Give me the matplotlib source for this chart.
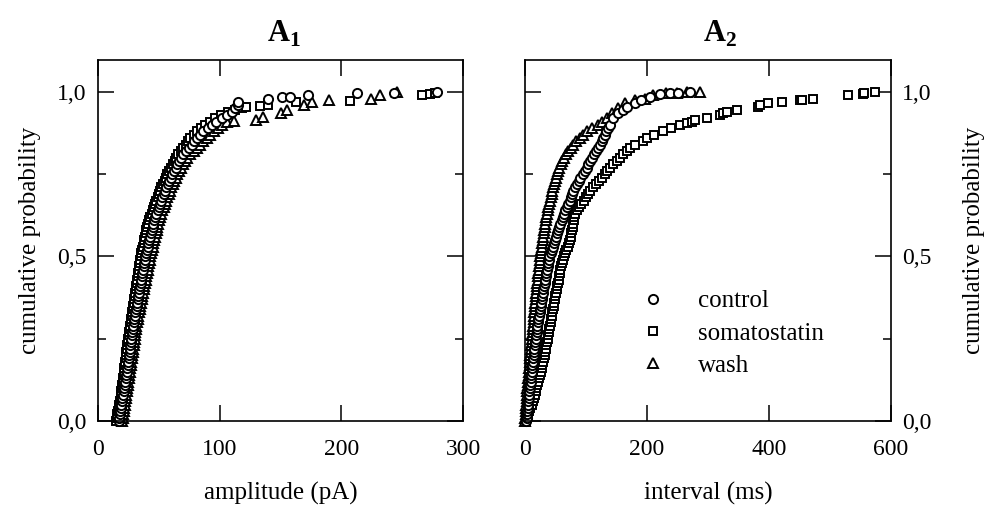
import matplotlib
matplotlib.use("Agg")
import matplotlib.pyplot as plt

plt.rcParams["font.family"] = ["Liberation Serif", "DejaVu Serif"]
plt.rcParams["mathtext.fontset"] = "custom"
plt.rcParams["mathtext.rm"] = "Liberation Serif"
plt.rcParams["mathtext.bf"] = "Liberation Serif:bold"

# cumulative probability levels (%) at which the dense part of every curve was read
band_p = [0, 1, 2, 3, 4, 5, 6, 7, 8, 9, 10, 11, 12, 13, 14, 15, 16, 17, 18, 19,
          20, 21, 22, 23, 24, 25, 26, 27, 28, 29, 30, 31, 32, 33, 34, 35, 36, 37, 38, 39,
          40, 41, 42, 43, 44, 45, 46, 47, 48, 49, 50, 51, 52, 53, 54, 55, 56, 57, 58, 59,
          60, 61, 62, 63, 64, 65, 66, 67, 68, 69, 70, 71, 72, 73, 74, 75, 76, 77, 78, 79,
          80, 81, 82, 83, 84, 85, 86, 87, 88, 89, 90]

# A1: amplitude (pA)
amp_control = [17, 17.4, 17.8, 18.2, 18.6, 19, 19.6, 20.1, 20.6, 21,
               21.5, 21.9, 22.3, 22.7, 23.1, 23.5, 23.9, 24.3, 24.7, 25.1,
               25.5, 25.9, 26.3, 26.7, 27.1, 27.5, 27.9, 28.3, 28.7, 29.1,
               29.5, 29.9, 30.4, 30.8, 31.3, 31.7, 32.2, 32.6, 33.1, 33.5,
               34, 34.5, 35, 35.5, 36, 36.5, 37, 37.5, 38, 38.5,
               39, 39.6, 40.2, 40.9, 41.5, 42.2, 42.8, 43.5, 44.2, 44.9,
               45.5, 46.3, 47.2, 48, 49, 50, 51, 52, 53, 54,
               55, 56.2, 57.4, 58.6, 59.8, 61, 62.4, 63.8, 65.2, 66.6,
               68, 70.2, 72.5, 74.7, 77, 79.2, 81.5, 83.7, 86, 90, 94]
amp_control_tail_x = [97, 102, 106, 110, 113, 115, 115, 140, 151, 158, 173, 213, 243, 279]
amp_control_tail_p = [91, 92, 93, 94, 95, 96, 97, 97.8, 98.4, 98.4, 99.2, 99.6, 99.8, 100]

amp_soma = [15, 15.5, 16, 16.5, 17, 17.5, 18, 18.5, 19, 19.2,
            19.5, 19.9, 20.2, 20.6, 21, 21.3, 21.7, 22, 22.3, 22.7,
            23, 23.4, 23.8, 24.2, 24.6, 25, 25.4, 25.8, 26.2, 26.6,
            27, 27.4, 27.8, 28.2, 28.6, 29, 29.4, 29.8, 30.2, 30.6,
            31, 31.4, 31.8, 32.2, 32.6, 33, 33.4, 33.8, 34.2, 34.6,
            35, 35.6, 36.2, 36.8, 37.4, 38, 38.6, 39.2, 39.8, 40.4,
            41, 42, 43, 44, 45, 46, 47, 48, 49, 50,
            51, 52, 53.5, 55, 56, 57, 58.5, 60, 61.5, 63,
            64, 66, 68, 70, 72, 74, 76, 78.5, 81, 84.5, 88]
amp_soma_tail_x = [92, 96, 101, 107, 113, 118, 122, 133, 140, 163, 207, 266, 273, 277]
amp_soma_tail_p = [91, 92, 93, 94, 94.6, 95, 95.3, 95.6, 96, 97, 97.3, 99, 99.3, 99.6]

amp_wash = [20, 20.4, 20.8, 21.2, 21.6, 22, 22.4, 22.8, 23.2, 23.6,
            24, 24.4, 24.8, 25.2, 25.6, 26, 26.4, 26.8, 27.2, 27.6,
            28, 28.4, 28.8, 29.2, 29.6, 30, 30.4, 30.8, 31.2, 31.6,
            32, 32.5, 33.1, 33.6, 34.2, 34.7, 35.3, 35.8, 36.4, 36.9,
            37.5, 38, 38.6, 39.1, 39.7, 40.2, 40.8, 41.3, 41.9, 42.4,
            43, 43.6, 44.3, 44.9, 45.6, 46.2, 46.9, 47.5, 48.2, 48.8,
            49.5, 50.3, 51.2, 52, 53, 54, 55, 56, 57, 58,
            59, 60.2, 61.4, 62.6, 63.8, 65, 66.6, 68.2, 69.8, 71.4,
            73, 75.7, 78.5, 81.2, 84, 86.7, 89.5, 92.2, 95, 98.5, 102]
amp_wash_tail_x = [106, 112, 130, 136, 150, 155, 169, 176, 190, 224, 232, 246]
amp_wash_tail_p = [91, 91.3, 91.5, 92.5, 93.5, 94.5, 96, 97, 97.5, 97.8, 99, 100]

# A2: interval (ms)
int_control = [2, 2.6, 3.2, 3.8, 4.4, 5, 5.6, 6.2, 6.8, 7.4,
               8, 8.6, 9.2, 9.8, 10.4, 11, 11.6, 12.2, 12.8, 13.4,
               14, 14.7, 15.4, 16.1, 16.8, 17.5, 18.2, 18.9, 19.6, 20.3,
               21, 22, 23, 24, 25, 25.8, 26.6, 27.5, 28.3, 29.2,
               30, 31, 32, 33, 34, 35, 36, 37, 38, 39,
               40, 42, 44, 46, 47.7, 49.4, 51.1, 52.9, 54.6, 56.3,
               58, 60, 62, 64, 66, 68.5, 71, 73.5, 76, 77.5,
               79, 82, 85, 88, 91, 94.5, 98, 101, 104, 107,
               110, 113, 116.5, 120, 123, 125.5, 128, 130.5, 133.5, 136, 139]
int_control_tail_x = [145, 152, 160, 167, 180, 190, 205, 221, 238, 251, 270]
int_control_tail_p = [92, 93.5, 94.5, 95.5, 96.5, 97.5, 98.5, 99.5, 99.8, 99.8, 100]

int_soma = [2, 3.8, 5.5, 7.3, 9, 10.8, 12.5, 14.3, 16, 17.4,
            18.8, 20.2, 21.6, 23, 24.4, 25.8, 27.2, 28.6, 30, 31,
            32, 33, 34, 35, 36, 37, 38, 39, 40, 41,
            42, 43, 44, 45, 46, 47, 48, 49, 50, 51,
            52, 53, 54, 55, 56, 57, 58, 59, 60, 62,
            64, 66, 68, 70, 72, 74, 75, 76, 77, 78,
            79, 80, 81, 82, 85, 89, 92.5, 96, 99.5, 103,
            107, 112, 117, 121.5, 126, 130.5, 135, 140, 145, 150.5,
            156, 161.5, 167, 172, 180, 194, 200, 211, 227, 240, 254]
int_soma_tail_x = [265, 273, 279, 298, 320, 325, 331, 347, 382, 385, 399, 421, 451, 454, 472, 530, 554, 556, 574]
int_soma_tail_p = [90.5, 91, 91.5, 92, 93, 93.5, 94, 94.5, 95.5, 96, 96.5, 97, 97.5, 97.7, 98, 99, 99.3, 99.6, 100]

int_wash = [0.5, 0.8, 1.2, 1.5, 1.9, 2.2, 2.6, 2.9, 3.3, 3.6,
            4, 4.5, 5, 5.5, 6, 6.5, 7, 7.5, 8, 8.5,
            9, 9.5, 10, 10.5, 11, 11.5, 12, 12.5, 13, 13.5,
            14, 14.5, 15, 15.5, 16, 16.5, 17, 17.5, 18, 18.5,
            19, 19.6, 20.2, 20.8, 21.4, 22, 22.6, 23.2, 23.8, 24.4,
            25, 25.8, 26.6, 27.4, 28.2, 29, 29.8, 30.6, 31.4, 32.2,
            33, 34, 35, 36, 37, 38, 39.4, 40.8, 42.2, 43.6,
            45, 46.4, 47.8, 49.2, 50.6, 52, 54, 56, 58.5, 61,
            64, 67.5, 71, 75, 79.5, 84, 89.5, 95.5, 102, 110, 120]
int_wash_tail_x = [127, 134, 142, 152, 164, 180, 197, 210, 232, 249, 265, 287]
int_wash_tail_p = [91, 92, 93.5, 95, 96.5, 97.5, 98, 99, 99.7, 99.7, 100, 100]

labels = ["control", "somatostatin", "wash"]
markers = {"control": ("o", 6.6), "somatostatin": ("s", 6.0), "wash": ("^", 6.8)}

panels = [
    {"control": (amp_control, amp_control_tail_x, amp_control_tail_p),
     "somatostatin": (amp_soma, amp_soma_tail_x, amp_soma_tail_p),
     "wash": (amp_wash, amp_wash_tail_x, amp_wash_tail_p)},
    {"control": (int_control, int_control_tail_x, int_control_tail_p),
     "somatostatin": (int_soma, int_soma_tail_x, int_soma_tail_p),
     "wash": (int_wash, int_wash_tail_x, int_wash_tail_p)},
]

fig = plt.figure(figsize=(9.87, 5.07), dpi=100, facecolor="white")
ax1 = fig.add_axes([0.0993, 0.1696, 0.3698, 0.712])
ax2 = fig.add_axes([0.5319, 0.1696, 0.3708, 0.712])

handles = {}
for ax, series in zip((ax1, ax2), panels):
    for name in ("somatostatin", "wash", "control"):
        band_x, tail_x, tail_p = series[name]
        xs = band_x + tail_x
        ps = [p / 100 for p in band_p + tail_p]
        mk, ms = markers[name]
        (ln,) = ax.plot(xs, ps, linestyle="none", marker=mk, markersize=ms,
                        markerfacecolor="white", markeredgecolor="black",
                        markeredgewidth=1.4, clip_on=False, label=name)
        handles[name] = ln

for ax in (ax1, ax2):
    ax.set_ylim(0, 1.097)
    ax.set_yticks([0, 0.5, 1.0])
    ax.set_yticklabels(["0,0", "0,5", "1,0"])
    ax.set_yticks([0.25, 0.75], minor=True)
    ax.tick_params(which="both", direction="in", top=True, right=True, width=1.1,
                   labelsize=17, color="black")
    ax.tick_params(which="major", length=11.5)
    ax.tick_params(which="minor", length=6)
    ax.tick_params(axis="x", pad=13)
    ax.tick_params(axis="y", pad=8)
    for sp in ax.spines.values():
        sp.set_linewidth(1.2)

ax1.set_xlim(0, 300)
ax1.set_xticks([0, 100, 200, 300])
ax2.set_xlim(0, 600)
ax2.set_xticks([0, 200, 400, 600])
ax2.tick_params(axis="y", labelleft=False, labelright=True)

ax1.set_xlabel("amplitude (pA)", fontsize=18, va="center")
ax1.xaxis.set_label_coords(0.5, -0.2)
ax2.set_xlabel("interval (ms)", fontsize=18, va="center")
ax2.xaxis.set_label_coords(0.5, -0.2)

ax1.set_ylabel("cumulative probability", fontsize=18, va="center", ha="center")
ax1.yaxis.set_label_coords(-0.186, 0.5)
ax2.yaxis.set_label_position("right")
ax2.set_ylabel("cumulative probability", fontsize=18, va="center", ha="center")
ax2.yaxis.set_label_coords(1.227, 0.5)

ax1.text(0.51, 1.05, r"$\mathbf{A}_\mathbf{1}$", transform=ax1.transAxes,
         ha="center", va="baseline", fontsize=22)
ax2.text(0.533, 1.05, r"$\mathbf{A}_\mathbf{2}$", transform=ax2.transAxes,
         ha="center", va="baseline", fontsize=22)

ax2.legend([handles[n] for n in labels], labels, loc="upper left",
           bbox_to_anchor=(0.316, 0.363), frameon=False, fontsize=18,
           handlelength=1.0, handletextpad=1.3, labelspacing=0.39,
           borderpad=0, borderaxespad=0, markerscale=1.0)

fig.savefig("out.png", dpi=100, facecolor="white")
